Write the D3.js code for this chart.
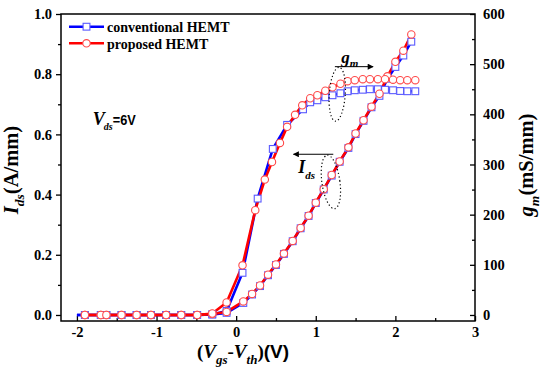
<!DOCTYPE html>
<html><head><meta charset="utf-8">
<script src="https://cdn.jsdelivr.net/npm/d3@7"></script>
<style>body{margin:0;background:#fff}</style>
</head><body>
<svg id="c" width="543" height="371"></svg>
<script>
// ---- tick values ----
const xTicks=[-2,-1,0,1,2,3];
const xMinor=[-1.5,-0.5,0.5,1.5,2.5];
const yLTicks=[0,0.2,0.4,0.6,0.8,1.0];
const yLMinor=[0.1,0.3,0.5,0.7,0.9];
const yRTicks=[0,100,200,300,400,500,600];
const yRMinor=[50,150,250,350,450,550];
const seriesNames=["conventional HEMT","proposed HEMT"];

// ---- Ids (A/mm), left axis ----
const vIdsConv=[-2.0,-1.9,-1.7,-1.63,-1.44,-1.25,-1.07,-0.88,-0.69,-0.49,-0.3,-0.12,0.09,0.2,0.3,0.4,0.5,0.6,0.71,0.81,0.91,1.0,1.1,1.2,1.3,1.41,1.5,1.6,1.7,1.8,1.9,2.0,2.1,2.2];
const idsConv=[0,0,0,0,0,0,0,0,0,0,0.002,0.007,0.04,0.068,0.096,0.132,0.166,0.203,0.245,0.288,0.329,0.372,0.417,0.463,0.509,0.555,0.601,0.645,0.69,0.728,0.785,0.824,0.862,0.908];
const vIdsProp=[-1.9,-1.7,-1.63,-1.44,-1.25,-1.07,-0.88,-0.69,-0.49,-0.3,-0.12,0.09,0.2,0.3,0.4,0.5,0.6,0.71,0.81,0.91,1.0,1.1,1.2,1.3,1.41,1.5,1.6,1.7,1.8,1.9,2.0,2.1,2.2];
const idsProp=[0,0,0,0,0,0,0,0,0,0.003,0.01,0.045,0.07,0.098,0.134,0.168,0.204,0.246,0.289,0.33,0.373,0.418,0.465,0.51,0.557,0.603,0.647,0.692,0.735,0.793,0.841,0.878,0.932];

// ---- gm (mS/mm), right axis ----
const vGmConv=[-2.0,-1.9,-1.7,-1.63,-1.44,-1.25,-1.07,-0.88,-0.69,-0.49,-0.3,-0.12,0.08,0.27,0.46,0.64,0.84,0.93,1.02,1.12,1.21,1.31,1.40,1.49,1.59,1.68,1.78,1.87,1.97,2.06,2.15,2.25];
const gmConv=[0,0,0,0,0,0,0,0,0,0,1,8,84,232,331,379,410,424,428,434,438,442,446,448,449,450,450,449,448,446.5,446,446];
const vGmProp=[-1.9,-1.7,-1.63,-1.44,-1.25,-1.07,-0.88,-0.69,-0.49,-0.3,-0.12,0.08,0.24,0.36,0.45,0.55,0.64,0.74,0.83,0.93,1.02,1.12,1.21,1.31,1.40,1.49,1.59,1.68,1.78,1.87,1.97,2.06,2.15,2.25];
const gmProp=[0,0,0,0,0,0,0,0,0,3,25,99,209,270,305,343,375,399,418,432,438,447,454,461,466,468,470,470,470,470,469,468,468,468];

const BLUE="#0000ff", RED="#ff0000", BLUEM="#5a5aff", REDM="#ff4a4a";
const SERIF="'Liberation Serif','Times New Roman',serif";
const SANS="'Liberation Sans',Arial,sans-serif";

const svg=d3.select('#c');
svg.append('rect').attr('width',543).attr('height',371).attr('fill','#fff');

const x=d3.scaleLinear().domain([-2.2,3]).range([61,475]);
const yL=d3.scaleLinear().domain([-0.02,1]).range([321,14]);
const yR=d3.scaleLinear().domain([-12,600]).range([321,14]);

function styleAxis(g){
  g.select('.domain').remove();
  g.selectAll('line').attr('stroke','#000').attr('stroke-width',1.3);
  g.selectAll('text').attr('font-family',SERIF).attr('font-weight','bold').attr('font-size','14.5px').attr('fill','#000');
}
// bottom
svg.append('g').attr('transform','translate(0,321)')
  .call(d3.axisBottom(x).tickValues(xTicks).tickSizeInner(-5).tickSizeOuter(0).tickPadding(6).tickFormat(d=>String(d))).call(styleAxis);
svg.append('g').attr('transform','translate(0,321)')
  .call(d3.axisBottom(x).tickValues(xMinor).tickSizeInner(-3).tickSizeOuter(0).tickFormat('')).call(styleAxis);
// left
svg.append('g').attr('transform','translate(61,0)')
  .call(d3.axisLeft(yL).tickValues(yLTicks).tickSizeInner(5).tickSizeOuter(0).tickPadding(4).tickFormat(d=>d.toFixed(1))).call(styleAxis);
svg.append('g').attr('transform','translate(61,0)')
  .call(d3.axisLeft(yL).tickValues(yLMinor).tickSizeInner(3).tickSizeOuter(0).tickFormat('')).call(styleAxis);
// right
svg.append('g').attr('transform','translate(475,0)')
  .call(d3.axisRight(yR).tickValues(yRTicks).tickSizeInner(-5).tickSizeOuter(0).tickPadding(8).tickFormat(d=>String(d))).call(styleAxis);
svg.append('g').attr('transform','translate(475,0)')
  .call(d3.axisRight(yR).tickValues(yRMinor).tickSizeInner(-3).tickSizeOuter(0).tickFormat('')).call(styleAxis);

// frame
svg.append('rect').attr('x',x.range()[0]).attr('y',yL.range()[1])
  .attr('width',x.range()[1]-x.range()[0]).attr('height',yL.range()[0]-yL.range()[1])
  .attr('fill','none').attr('stroke','#000').attr('stroke-width',1.5);

const zip=(a,b)=>a.map((v,i)=>[v,b[i]]);
const dIdsConv=zip(vIdsConv,idsConv), dIdsProp=zip(vIdsProp,idsProp);
const dGmConv=zip(vGmConv,gmConv), dGmProp=zip(vGmProp,gmProp);

const lineL=d3.line().x(d=>x(d[0])).y(d=>yL(d[1]));
const lineR=d3.line().x(d=>x(d[0])).y(d=>yR(d[1]));
const plot=svg.append('g');
[[dIdsConv,lineL,BLUE],[dGmConv,lineR,BLUE],[dIdsProp,lineL,RED],[dGmProp,lineR,RED]].forEach(([d,l,c])=>{
  plot.append('path').attr('d',l(d)).attr('fill','none').attr('stroke',c).attr('stroke-width',2.6).attr('stroke-linejoin','round');
});
const S=6.8, R=3.7;
function squares(d,y){
  plot.append('g').selectAll('rect').data(d.slice(1)).join('rect')
    .attr('x',p=>x(p[0])-S/2).attr('y',p=>y(p[1])-S/2).attr('width',S).attr('height',S)
    .attr('fill','#fff').attr('stroke',BLUEM).attr('stroke-width',1.1);
}
function circles(d,y){
  plot.append('g').selectAll('circle').data(d).join('circle')
    .attr('cx',p=>x(p[0])).attr('cy',p=>y(p[1])).attr('r',R)
    .attr('fill','#fff').attr('stroke',REDM).attr('stroke-width',1.1);
}
squares(dIdsConv,yL); squares(dGmConv,yR);
circles(dIdsProp,yL); circles(dGmProp,yR);

// legend
const lg=svg.append('g');
[[BLUE,'s',26.7,31.5],[RED,'c',43.3,48.5]].forEach(([c,m,ly,ty],i)=>{
  lg.append('line').attr('x1',69).attr('x2',104).attr('y1',ly).attr('y2',ly).attr('stroke',c).attr('stroke-width',2.6);
  if(m==='s') lg.append('rect').attr('x',86.5-S/2).attr('y',ly-S/2).attr('width',S).attr('height',S).attr('fill','#fff').attr('stroke',BLUEM).attr('stroke-width',1.1);
  else lg.append('circle').attr('cx',86.5).attr('cy',ly).attr('r',R).attr('fill','#fff').attr('stroke',REDM).attr('stroke-width',1.1);
  lg.append('text').attr('x',107).attr('y',ty).attr('font-family',SERIF).attr('font-weight','bold').attr('font-size','14px').text(seriesNames[i]);
});

// Vds annotation
const vt=svg.append('text').attr('x',x(-1.8)).attr('y',yL(0.632)).attr('font-weight','bold');
vt.append('tspan').attr('font-family',SERIF).attr('font-style','italic').attr('font-size','18px').text('V');
vt.append('tspan').attr('font-family',SERIF).attr('font-style','italic').attr('font-size','10px').attr('dy',5).attr('dx',-1).text('ds');
vt.append('tspan').attr('font-family',SANS).attr('font-size','15.5px').attr('dy',-5).attr('textLength',23).attr('lengthAdjust','spacingAndGlyphs').text('=6V');

// axis titles
function title(sel, parts){
  parts.forEach(p=>{
    const t=sel.append('tspan').text(p.t).attr('font-family',p.f||SERIF);
    if(p.i) t.attr('font-style','italic');
    if(p.s) t.attr('font-size',p.s+'px');
    if(p.dy) t.attr('dy',p.dy);
  });
}
const xt=svg.append('text').attr('x',243).attr('y',357.5).attr('text-anchor','middle').attr('font-weight','bold').attr('font-size','19px');
title(xt,[{t:'('},{t:'V',i:1},{t:'gs',i:1,s:13,dy:6},{t:'-',dy:-6},{t:'V',i:1},{t:'th',i:1,s:13,dy:6},{t:')',dy:-6},{t:'(V)',f:SANS}]);

const lt=svg.append('text').attr('transform','translate(18,170) rotate(-90)').attr('text-anchor','middle').attr('font-weight','bold').attr('font-size','20.5px');
title(lt,[{t:'I',i:1},{t:'ds',i:1,s:13.5,dy:6},{t:'(A/mm)',dy:-6}]);

const rt=svg.append('text').attr('transform','translate(533,165) rotate(-90)').attr('text-anchor','middle').attr('font-weight','bold').attr('font-size','20.5px');
title(rt,[{t:'g',i:1},{t:'m',i:1,s:13.5,dy:6},{t:'(mS/mm)',dy:-6}]);

// arrows + ellipses
const defs=svg.append('defs');
defs.append('marker').attr('id','ah').attr('viewBox','0 0 10 10').attr('refX',9).attr('refY',5)
  .attr('markerWidth',8).attr('markerHeight',6).attr('markerUnits','userSpaceOnUse').attr('orient','auto')
  .append('path').attr('d','M0,0L10,5L0,10Z').attr('fill','#000');
svg.append('line').attr('x1',x(1.24)).attr('x2',x(1.72)).attr('y1',yR(495)).attr('y2',yR(495))
  .attr('stroke','#000').attr('stroke-width',1).attr('marker-end','url(#ah)');
svg.append('line').attr('x1',x(1.22)).attr('x2',x(0.72)).attr('y1',yL(0.534)).attr('y2',yL(0.534))
  .attr('stroke','#000').attr('stroke-width',1).attr('marker-end','url(#ah)');
svg.append('ellipse').attr('transform',`translate(${x(1.27)},${yR(440)}) rotate(4)`).attr('rx',8).attr('ry',27)
  .attr('fill','none').attr('stroke','#000').attr('stroke-width',1.2).attr('stroke-dasharray','1.2,2.4');
svg.append('ellipse').attr('transform',`translate(${x(1.19)},${yL(0.442)}) rotate(-8)`).attr('rx',9).attr('ry',27)
  .attr('fill','none').attr('stroke','#000').attr('stroke-width',1.2).attr('stroke-dasharray','1.2,2.4');

const gt=svg.append('text').attr('x',x(1.32)).attr('y',yR(503)).attr('font-family',SERIF).attr('font-weight','bold');
title(gt,[{t:'g',i:1,s:17},{t:'m',i:1,s:11,dy:4}]);
const it=svg.append('text').attr('x',x(0.78)).attr('y',yL(0.472)).attr('font-family',SERIF).attr('font-weight','bold');
title(it,[{t:'I',i:1,s:18},{t:'ds',i:1,s:11,dy:6}]);
</script>
</body></html>
